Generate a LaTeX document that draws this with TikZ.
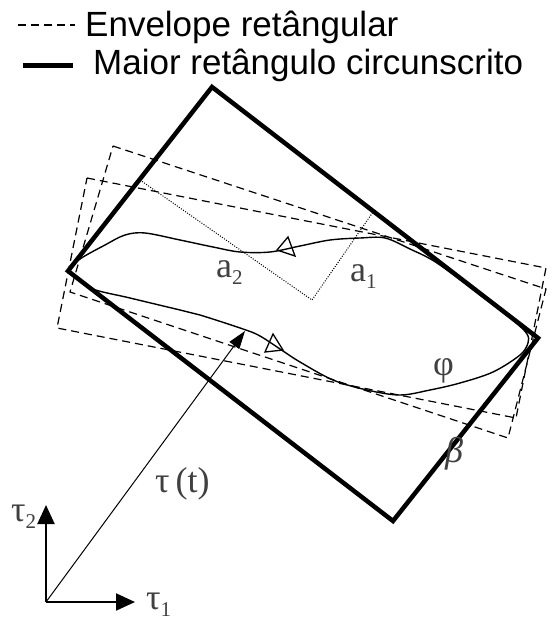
\documentclass[tikz,border=0pt]{standalone}
\usepackage{fontspec}
\setmainfont{Liberation Serif}
\newfontfamily\legenda{Liberation Sans}
\usetikzlibrary{arrows.meta}

\newcommand{\subidx}[1]{\raisebox{-7pt}{\fontsize{21}{21}\selectfont #1}}

\begin{document}
\begin{tikzpicture}[x=1pt, y=-1pt,
  envelope/.style={line width=1.2pt, dash pattern=on 8pt off 5pt},
  maior/.style={line width=4.5pt, line join=miter},
  pontilhado/.style={line width=1pt, dash pattern=on 1pt off 1.5pt},
  rotulo/.style={anchor=base west, inner sep=0pt, text=black!75,
                 font=\fontsize{36}{40}\selectfont},
  legtexto/.style={anchor=base west, inner sep=0pt,
                   font=\legenda\fontsize{35}{40}\selectfont},
  eixo/.style={line width=2pt, -{Triangle[length=19pt,width=17pt]}},
  marca/.style={line width=1.3pt, line join=miter}]

\useasboundingbox (0,0) rectangle (552,623);

% legenda
\coordinate (leg1a) at (18,25);
\coordinate (leg1b) at (75,25);
\coordinate (leg2a) at (23,66);
\coordinate (leg2b) at (73,66);
\draw[envelope] (leg1a) -- (leg1b);
\draw[line width=5pt] (leg2a) -- (leg2b);
\node[legtexto] (leg1) at (85,37) {Envelope retângular};
\node[legtexto] (leg2) at (93,75) {Maior retângulo circunscrito};

% envelopes retangulares
\draw[envelope] (87,178) -- (546,268) -- (516,418) -- (57,328) -- cycle;
\draw[envelope] (113,146) -- (546,289) -- (508,438) -- (70,292) -- cycle;

% maior retangulo circunscrito
\coordinate (topo) at (212,87);
\coordinate (dir) at (538,338);
\coordinate (base) at (393,521);
\coordinate (esq) at (68,271);
\draw[maior] (topo) -- (dir) -- (base) -- (esq) -- cycle;

% distancias a1 e a2
\coordinate (pe2) at (140,180);
\coordinate (p) at (312,300);
\coordinate (pe1) at (373,212);
\draw[pontilhado] (pe2) -- (p) -- (pe1);

% curva
\draw[line width=1.4pt] plot[smooth, tension=0.55] coordinates {
  (68,271) (80,259) (105,245) (125,235) (145,233) (180,240) (213,247)
  (240,252) (270,252) (300,246) (330,240) (360,238) (385,238) (410,249)
  (437,263) (483,297) (515,322) (527,334) (528,343) (520,355) (493,372)
  (460,383) (430,390) (400,395) (367,390) (333,380) (300,362) (283,351)
  (260,336) (243,329) (200,315) (180,310) (130,298) (90,288) (68,271)};

% marcas de sentido
\draw[marca] (277,250) -- (288,237) -- (295,256) -- cycle;
\draw[marca] (265,352) -- (273,334) -- (283,350) -- cycle;

% eixos e vetor
\coordinate (o) at (46,602);
\coordinate (e1) at (135,602);
\coordinate (e2) at (46,505);
\coordinate (ponta) at (245,331);
\draw[eixo] (o) -- (e1);
\draw[eixo] (o) -- (e2);
\draw[line width=1pt, -{Triangle[length=18pt,width=12pt]}] (o) -- (ponta);

% rotulos
\node[rotulo] (a2) at (216,277) {a\subidx{2}};
\node[rotulo] (a1) at (350,281) {a\subidx{1}};
\node[rotulo] (phi) at (433,375) {φ};
\node[rotulo] (beta) at (445,462) {\textit{β}};
\node[rotulo] (tau) at (155,492) {τ\,(t)};
\node[rotulo] (tau2) at (11,521) {τ\subidx{2}};
\node[rotulo] (tau1) at (146,609) {τ\subidx{1}};

\end{tikzpicture}
\end{document}
